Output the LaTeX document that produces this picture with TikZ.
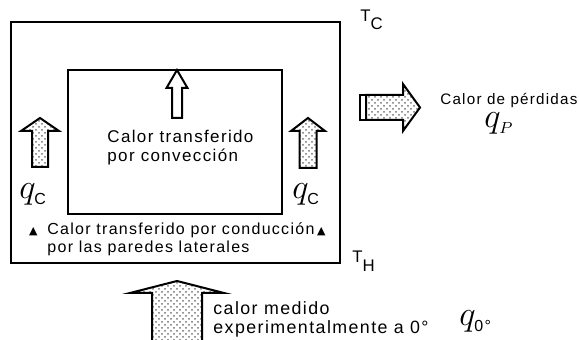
\documentclass[tikz,border=0pt]{standalone}
\usepackage{fontspec}
\setmainfont{Liberation Sans}[LetterSpace=8]
\newfontfamily\symfont{DejaVu Sans}
\usetikzlibrary{patterns}
\newcommand{\qsub}[1]{\hbox{\fontsize{8}{8}\selectfont #1}}
\newcommand{\qital}[1]{\hbox{\fontsize{8.5}{9}\selectfont$#1$}}
\newcommand{\tri}{{\symfont\fontsize{5.5}{6}\selectfont ▲}}
% fat upright arrow: style, centre x, tip y, foot y, head half, shaft half, head base y
\newcommand{\uparr}[7]{%
  \draw[#1] (#2-#6,#4) -- (#2-#6,#7) -- (#2-#5,#7) -- (#2,#3)
    -- (#2+#5,#7) -- (#2+#6,#7) -- (#2+#6,#4) -- cycle;}

\begin{document}
\begin{tikzpicture}[
  x={(0.5pt,0)}, y={(0,-0.5pt)},
  every node/.style={inner sep=0pt, font=\fontsize{7.6}{9.5}\selectfont},
  wall/.style={draw=black, line width=1pt},
  hollow/.style={draw=black, line width=1pt, fill=white, line join=miter},
  stipple/.style={draw=black, line width=1pt, line join=miter, pattern=crosshatch dots, pattern color=black!55},
  label/.style={anchor=base west, align=left},
  heat/.style={anchor=base west, font=\fontsize{16.5}{16.5}\selectfont},
  temp/.style={anchor=base west, font=\fontsize{8.4}{9}\selectfont}
]
\useasboundingbox (0,0) rectangle (579,340);

% walls of the cell
\draw[wall] (11,22) rectangle (340,263);
\draw[wall] (68,70) rectangle (282,214);

% heat flow arrows
\uparr{hollow}{177}{70}{118}{10.5}{5}{88}
\uparr{stipple}{40}{118}{167}{19}{8}{131}
\uparr{stipple}{308}{118}{168}{17}{8.5}{131}
\uparr{stipple}{177}{281}{345}{47}{25}{293}
\draw[stipple] (366,95) -- (403,95) -- (403,84) -- (420,107.5)
  -- (403,131) -- (403,120) -- (366,120) -- cycle;
\draw[hollow] (360,95) rectangle (366,120);

% texts (base = last line)
\node[label, font=\fontsize{8.5}{9.5}\selectfont] (conv) at (107,162)
  {Calor transferido\\por convección};
\node[label, font=\fontsize{8}{9}\selectfont] (cond) at (47,253)
  {Calor transferido por conducción\,\tri\\por las paredes laterales};
\node[anchor=base east] (trileft) at ([xshift=-4.5pt,yshift=9pt]cond.base west) {\tri};
\node[label] (loss) at (440,105) {Calor de pérdidas};
\node[label, font=\fontsize{8.9}{9.5}\selectfont] (meas) at (213,334)
  {calor medido\\experimentalmente a 0°};

% heat quantities
\node[heat] (qcl) at (19,199) {$q_{\qsub{C}}$};
\node[heat] (qcr) at (292,199) {$q_{\qsub{C}}$};
\node[heat] (qp) at (484,128) {$q_{\qital{P}}$};
\node[heat] (qz) at (459,326) {$q_{\qsub{0°}}$};

% temperatures
\node[temp] (tc) at (360,22) {T\raisebox{-4pt}{C}};
\node[temp] (th) at (352,263) {T\raisebox{-4.5pt}{H}};
\end{tikzpicture}
\end{document}
